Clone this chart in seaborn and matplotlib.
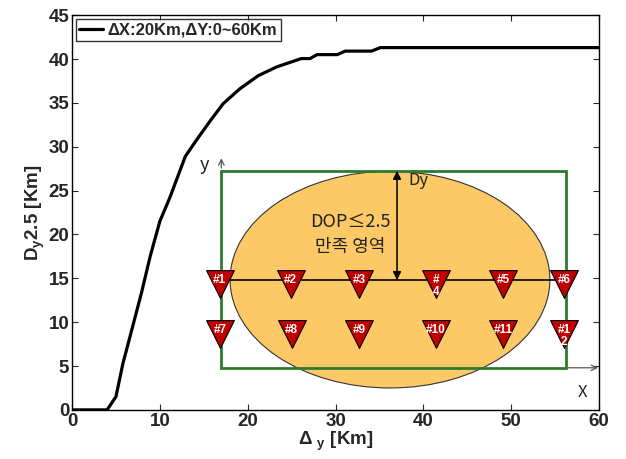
import numpy as np
import pandas as pd
import seaborn as sns
import matplotlib.pyplot as plt
from matplotlib.patches import Ellipse, Rectangle

# curva D_y2.5 em funcao de delta y
dy_km = [0, 4, 5, 5.8, 6.8, 7.9, 8.9, 10, 11.1, 12.9, 14.2, 15.7, 17.2, 19.1,
         21.2, 23.3, 26.1, 27.1, 27.9, 30.2, 31.1, 34.1, 35.1, 60]
d_km = [0, 0, 1.5, 5.3, 9.1, 13.3, 17.5, 21.5, 24.1, 28.9, 30.8, 32.9, 34.9, 36.6,
        38.1, 39.1, 40.05, 40.05, 40.5, 40.5, 40.9, 40.9, 41.3, 41.3]
serie_label = 'ΔX:20Km,ΔY:0~60Km'

# estacoes do esquema (x, y, rotulo)
est_x = [16.8, 24.9, 32.7, 41.4, 49.1, 56.0, 16.9, 25.0, 32.7, 41.4, 49.1, 56.0]
est_y = [14.3] * 6 + [8.6] * 6
est_lbl = ['#1', '#2', '#3', '#\n4', '#5', '#6', '#7', '#8', '#9', '#10', '#11', '#1\n2']

sns.set_style('ticks')
plt.rcParams['font.family'] = ['Liberation Sans', 'DejaVu Sans']
plt.rcParams['mathtext.fontset'] = 'custom'
plt.rcParams['mathtext.rm'] = 'Liberation Sans'
plt.rcParams['mathtext.bf'] = 'Liberation Sans:bold'
plt.rcParams['mathtext.it'] = 'Liberation Sans:bold'

fig = plt.figure(figsize=(6.26, 4.59), dpi=100)
ax = fig.add_axes([0.115, 0.107, 0.842, 0.86])

df = pd.DataFrame({'dy': dy_km, 'd': d_km})
sns.lineplot(data=df, x='dy', y='d', sort=False, estimator=None, color='black',
             linewidth=2.3, label=serie_label, ax=ax, zorder=2)

kr = ['Noto Sans CJK KR', 'DejaVu Sans']
cinza = '#555555'

# esquema: elipse e retangulo
ax.add_patch(Ellipse((36.2, 14.85), 36.4, 24.7, facecolor='#fdc967',
                     edgecolor='#333333', linewidth=0.8, zorder=3))
ax.add_patch(Rectangle((17.0, 4.8), 39.2, 22.45, fill=False,
                       edgecolor='#2e7a2e', linewidth=2, zorder=4))
ax.plot([17.0, 56.2], [14.8, 14.8], color='black', linewidth=1.2, zorder=4)

ax.annotate('', xy=(17.0, 29.0), xytext=(17.0, 27.25),
            arrowprops=dict(arrowstyle='->', color=cinza, lw=0.9), zorder=4)
ax.annotate('', xy=(60.2, 4.8), xytext=(56.2, 4.8), annotation_clip=False,
            arrowprops=dict(arrowstyle='->', color=cinza, lw=0.9), zorder=4)
ax.annotate('', xy=(37.0, 14.8), xytext=(37.0, 27.25),
            arrowprops=dict(arrowstyle='<|-|>', color='black', lw=1.1,
                            mutation_scale=12, shrinkA=0, shrinkB=0), zorder=5)

ax.text(15.1, 27.9, 'y', family=kr, fontsize=13, color='#222222', ha='center', va='center')
ax.text(58.1, 2.0, 'X', family=kr, fontsize=12, color='#222222', ha='center', va='center')
ax.text(39.4, 26.2, 'Dy', family=kr, fontsize=12, color='#222222', ha='center', va='center')
ax.text(31.7, 21.4, 'DOP≤2.5', family=kr, fontsize=13, color='#222222', ha='center', va='center')
ax.text(31.7, 18.6, '만족 영역', family=kr, fontsize=13, color='#222222', ha='center', va='center')

# estacoes
sns.scatterplot(x=est_x, y=est_y, marker='v', s=400, color='#c00000',
                edgecolor='black', linewidth=0.8, zorder=6, ax=ax, legend=False)
for x, y, t in zip(est_x, est_y, est_lbl):
    ax.text(x, y + 1.15, t, color='white', fontsize=8.5, fontweight='bold',
            ha='center', va='top', linespacing=1.0, zorder=7)

ax.set_xlim(0, 60)
ax.set_ylim(0, 45)
ax.set_xticks(range(0, 61, 10))
ax.set_yticks(range(0, 46, 5))
ax.tick_params(direction='in', top=True, right=True, length=4, width=0.8,
               labelsize=13.5, pad=2)
for lb in ax.get_xticklabels() + ax.get_yticklabels():
    lb.set_fontweight('bold')
for sp in ax.spines.values():
    sp.set_visible(True)
    sp.set_color('black')
    sp.set_linewidth(1)

ax.set_xlabel(r'Δ $\mathbf{_y}$ [Km]', fontsize=13.5, fontweight='bold', labelpad=0)
ax.set_ylabel(r'D$\mathbf{_y}$2.5 [Km]', fontsize=13.5, fontweight='bold', labelpad=1)

leg = ax.legend(loc='upper left', bbox_to_anchor=(0, 1), borderaxespad=0.25,
                frameon=True, fancybox=False, edgecolor='black', handlelength=1.4,
                handletextpad=0.3, borderpad=0.2, prop={'weight': 'bold', 'size': 12})
leg.get_frame().set_linewidth(1)

fig.savefig('out.png', dpi=100)
